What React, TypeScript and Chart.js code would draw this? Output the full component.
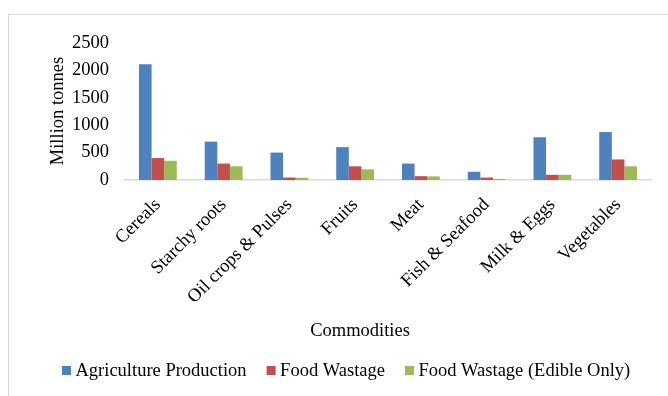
import React, { useEffect, useRef } from "react";
import { Chart, registerables } from "chart.js";

Chart.register(...registerables);

const categories = [
  "Cereals",
  "Starchy roots",
  "Oil crops & Pulses",
  "Fruits",
  "Meat",
  "Fish & Seafood",
  "Milk & Eggs",
  "Vegetables",
];
const agricultureProduction = [2110, 700, 500, 600, 300, 150, 780, 875];
const foodWastage = [400, 300, 45, 250, 70, 45, 95, 375];
const foodWastageEdible = [350, 250, 40, 195, 65, 20, 95, 250];
const seriesNames = ["Agriculture Production", "Food Wastage", "Food Wastage (Edible Only)"];
const seriesColors = ["#4F81BD", "#C0504D", "#9BBB59"];
const yTicks = [0, 500, 1000, 1500, 2000, 2500];

const FONT = "'Liberation Serif', 'Times New Roman', serif";
const FS = 18.5;

const overlay = {
  id: "overlay",
  afterDraw(chart: any) {
    const ctx = chart.ctx as CanvasRenderingContext2D;
    ctx.save();
    ctx.fillStyle = "#000";
    ctx.font = `${FS}px ${FONT}`;
    // y-axis title
    ctx.save();
    ctx.translate(63, 111);
    ctx.rotate(-Math.PI / 2);
    ctx.textAlign = "center";
    ctx.textBaseline = "alphabetic";
    ctx.fillText("Million tonnes", 0, 0);
    ctx.restore();
    // x-axis title
    ctx.textAlign = "center";
    ctx.textBaseline = "alphabetic";
    ctx.fillText("Commodities", 360, 336);
    // legend
    ctx.textAlign = "left";
    let x = 62;
    seriesNames.forEach((name, i) => {
      ctx.fillStyle = seriesColors[i];
      ctx.fillRect(x, 366, 9, 9);
      ctx.fillStyle = "#000";
      ctx.fillText(name, x + 13.5, 376);
      x += 13.5 + ctx.measureText(name).width + 20;
    });
    ctx.restore();
  },
};

export default function App() {
  const ref = useRef<HTMLCanvasElement>(null);
  useEffect(() => {
    if (!ref.current) return;
    const chart = new Chart(ref.current, {
      type: "bar",
      data: {
        labels: categories,
        datasets: [agricultureProduction, foodWastage, foodWastageEdible].map((d, i) => ({
          label: seriesNames[i],
          data: d,
          backgroundColor: seriesColors[i],
          borderWidth: 0,
          categoryPercentage: 0.575,
          barPercentage: 1,
        })),
      },
      options: {
        animation: false,
        responsive: false,
        maintainAspectRatio: false,
        layout: { padding: { left: 0, right: 17, top: 43, bottom: 0 } },
        plugins: {
          legend: { display: false },
          tooltip: { enabled: false },
        },
        scales: {
          x: {
            grid: { display: false, drawTicks: false },
            border: { display: true, color: "#d9d9d9", width: 1.5 },
            ticks: {
              color: "#000",
              font: { family: FONT, size: FS },
              minRotation: 45,
              maxRotation: 45,
              padding: 14,
              autoSkip: false,
            },
            afterFit: (s: any) => {
              s.height = 216;
            },
          },
          y: {
            min: 0,
            max: 2500,
            afterBuildTicks: (s: any) => {
              s.ticks = yTicks.map((v) => ({ value: v }));
            },
            grid: { display: false, drawTicks: false },
            border: { display: false },
            ticks: {
              color: "#000",
              font: { family: FONT, size: FS },
              padding: 16,
              callback: (v: any) => String(v),
            },
            afterFit: (s: any) => {
              s.width = 125;
            },
          },
        },
      },
      plugins: [overlay],
    });
    return () => chart.destroy();
  }, []);
  return (
    <div style={{ position: "fixed", left: 0, top: 0, width: 668, height: 396, background: "#fff", overflow: "hidden" }}>
      <div
        style={{
          position: "absolute",
          left: 8,
          top: 14,
          width: 720,
          height: 420,
          border: "1px solid #d9d9d9",
        }}
      />
      <canvas ref={ref} width={668} height={396} style={{ position: "absolute", left: 0, top: 0 }} />
    </div>
  );
}
